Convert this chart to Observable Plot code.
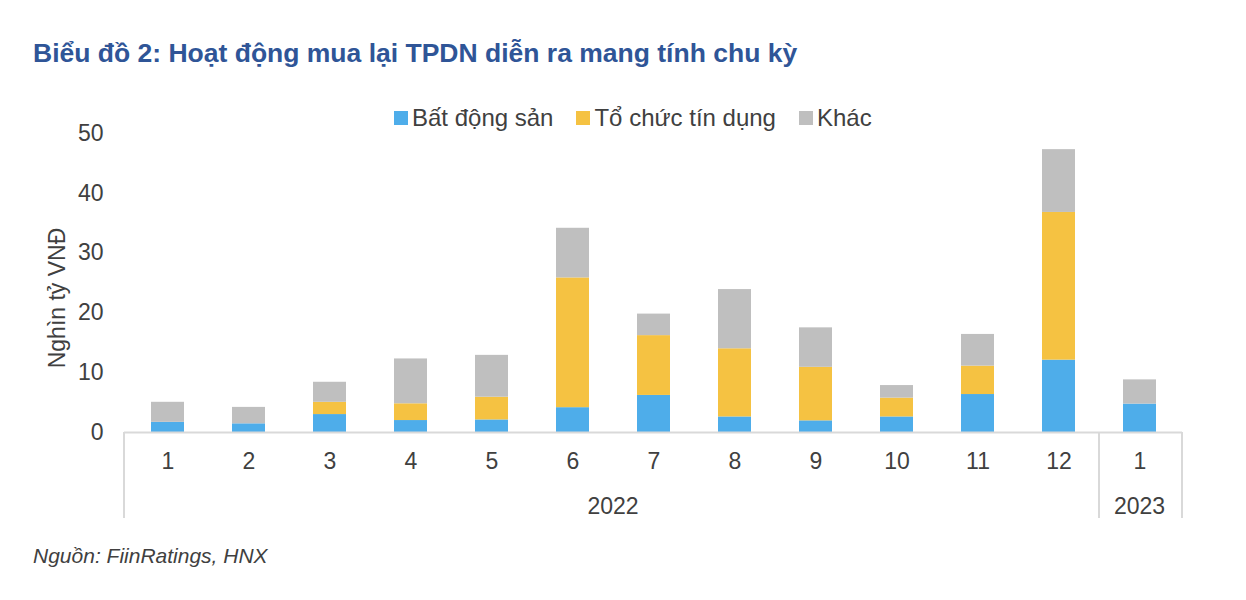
<!DOCTYPE html>
<html>
<head>
<meta charset="utf-8">
<script src="https://cdn.jsdelivr.net/npm/d3@7"></script>
<script src="https://cdn.jsdelivr.net/npm/@observablehq/plot@0.6"></script>
<style>
  html, body { margin: 0; padding: 0; background: #fff; }
  body { width: 1246px; height: 600px; position: relative; overflow: hidden; font-family: "Liberation Sans", Arial, sans-serif; }
  .abs { position: absolute; white-space: nowrap; line-height: 1; }
  #title { left: 33px; top: 40px; font-size: 26.5px; font-weight: bold; color: #2F5597; }
  #legend { left: 394px; top: 106px; font-size: 24px; color: #404040; display: flex; align-items: center; }
  #legend .item { display: flex; align-items: center; margin-right: 23px; }
  #legend .sw { width: 14px; height: 14px; margin-right: 4px; }
  #source { left: 33px; top: 545px; font-size: 21px; font-style: italic; color: #404040; }
  #chart { position: absolute; left: 0; top: 100px; }
  #ylabel { left: 57px; top: 298px; font-size: 23px; color: #404040; transform: translate(-50%, -50%) rotate(-90deg); }
</style>
</head>
<body>
<div id="title" class="abs">Biểu đồ 2: Hoạt động mua lại TPDN diễn ra mang tính chu kỳ</div>
<div id="legend" class="abs"></div>
<div id="chart"></div>
<div id="ylabel" class="abs">Nghìn tỷ VNĐ</div>
<div id="source" class="abs">Nguồn: FiinRatings, HNX</div>
<script>
// ---- data ----
const months = ["1","2","3","4","5","6","7","8","9","10","11","12","1"];
const years  = ["2022","2022","2022","2022","2022","2022","2022","2022","2022","2022","2022","2022","2023"];
const seriesNames = ["Bất động sản", "Tổ chức tín dụng", "Khác"];
const seriesColors = ["#4EADEA", "#F5C242", "#BFBFBF"];
const batDongSan = [1.7, 1.45, 3.0, 2.0, 2.1, 4.15, 6.2, 2.6, 1.95, 2.6, 6.35, 12.1, 4.75];
const toChucTinDung = [0, 0, 2.05, 2.8, 3.8, 21.7, 10.0, 11.4, 8.95, 3.15, 4.75, 24.7, 0];
const khac = [3.35, 2.75, 3.35, 7.5, 7.0, 8.3, 3.6, 9.9, 6.6, 2.1, 5.3, 10.5, 4.05];
const yTicks = [0, 10, 20, 30, 40, 50];

const keys = months.map((m, i) => `${years[i]}-${m}`);
const seriesValues = [batDongSan, toChucTinDung, khac];
const data = [];
seriesNames.forEach((s, si) => {
  seriesValues[si].forEach((v, i) => data.push({key: keys[i], month: months[i], year: years[i], series: s, value: v}));
});

// ---- legend ----
const legend = document.getElementById("legend");
seriesNames.forEach((s, i) => {
  const it = document.createElement("div");
  it.className = "item";
  it.innerHTML = `<div class="sw" style="background:${seriesColors[i]}"></div><span>${s}</span>`;
  legend.appendChild(it);
});

const PI = 0.594;
const axisColor = "#D9D9D9";

// custom multi-level category axis (separators + year labels)
function yearAxis(index, scales, values, dimensions) {
  const x = scales.x;
  const step = x(keys[1]) - x(keys[0]);
  let bw = x.bandwidth;
  if (typeof bw === "function") bw = bw();
  if (!(typeof bw === "number" && isFinite(bw))) bw = step * (1 - PI);
  const gap = step - bw;
  const y0 = dimensions.height - dimensions.marginBottom;
  const left = dimensions.marginLeft;
  const right = dimensions.width - dimensions.marginRight;
  const g = d3.create("svg:g");
  const uniqYears = Array.from(new Set(years));
  const bounds = [left];
  const centers = [];
  uniqYears.forEach((yr, yi) => {
    const ks = keys.filter((k, i) => years[i] === yr);
    const first = x(ks[0]);
    const last = x(ks[ks.length - 1]) + bw;
    const start = yi === 0 ? left : first - gap / 2;
    if (yi > 0) bounds.push(start);
    centers.push({yr, c: (first + last) / 2});
  });
  bounds.push(right);
  bounds.forEach(b => {
    g.append("line").attr("x1", b).attr("x2", b).attr("y1", y0).attr("y2", y0 + 86)
      .attr("stroke", axisColor).attr("stroke-width", 2);
  });
  centers.forEach(({yr, c}) => {
    g.append("text").attr("x", c).attr("y", y0 + 82).attr("text-anchor", "middle")
      .attr("font-size", 23).attr("fill", "#404040").text(yr);
  });
  return g.node();
}

const plot = Plot.plot({
  width: 1246,
  height: 440,
  marginTop: 33,
  marginBottom: 108,
  marginLeft: 124,
  marginRight: 64,
  style: {fontFamily: "Liberation Sans, Arial, sans-serif", fontSize: "23px", color: "#404040", background: "transparent"},
  x: {domain: keys, paddingInner: PI, paddingOuter: PI / 2, label: null},
  y: {domain: [0, 50], ticks: yTicks, label: null},
  color: {domain: seriesNames, range: seriesColors},
  marks: [
    Plot.barY(data, {x: "key", y: "value", fill: "series", order: seriesNames}),
    Plot.ruleY([0], {stroke: axisColor, strokeWidth: 2}),
    Plot.axisY({ticks: yTicks, tickSize: 0, tickPadding: 21, label: null, fontSize: 23}),
    Plot.axisX({tickSize: 0, tickPadding: 20, label: null, fontSize: 23, tickFormat: k => months[keys.indexOf(k)]}),
    yearAxis
  ]
});
document.getElementById("chart").appendChild(plot);
</script>
</body>
</html>
